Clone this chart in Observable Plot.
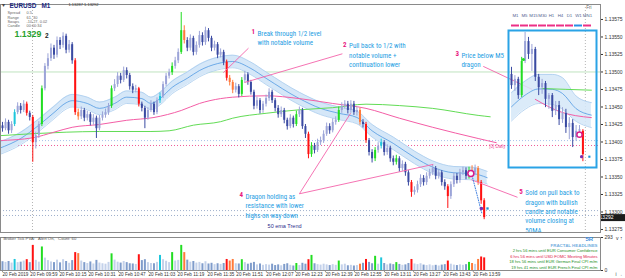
<!DOCTYPE html>
<html><head><meta charset="utf-8">
<script src="https://cdn.jsdelivr.net/npm/d3@7"></script>
<script src="https://cdn.jsdelivr.net/npm/@observablehq/plot@0.6"></script>
<style>
html,body{margin:0;padding:0;background:#fff;}
#wrap{position:relative;width:625px;height:278px;overflow:hidden;background:#fff;}
#wrap svg{position:absolute;}
</style></head><body><div id="wrap"></div>
<script>
// ---------- DATA (prices in points of 1e-5 above 1.13000) ----------
const firstOpen = 423;
const close = [419,428,416,425,442,451,445,454,441,435, 399,409,425,476,508,519,534,524,545,538,
 551,531,539,516,442,436,445,434,439,428, 434,419,434,438,442,451,476,482,494,488,
 502,495,479,474,476,454,448,434,445,454, 442,459,465,482,494,499,508,516,528,559,
 545,534,548,528,538,552,542,559,548,534, 539,524,528,514,491,485,474,479,468,488,
 496,485,471,451,459,445,454,462,471,459, 448,439,445,431,422,434,425,439,445,422,
 411,382,394,388,399,402,411,422,416,428, 431,445,451,454,445,454,442,445,428,425,
 402,385,376,388,394,399,385,391,376,371, 376,362,368,356,342,328,331,339,348,342,
 351,356,362,351,356,342,336,322,339,351, 345,356,359,351,359,356,362,342,316,292];
const high = [428,433,431,429,446,456,455,459,457,444, 438,414,429,480,512,526,540,538,550,549,
 556,554,545,542,519,447,450,448,444,442, 439,437,438,443,447,455,480,489,499,498,
 507,506,498,483,481,478,457,451,449,459, 457,463,470,486,498,504,513,521,533,585,
 566,549,553,551,543,558,556,564,562,551, 544,542,533,531,517,495,488,484,482,492,
 501,499,488,474,464,462,458,467,476,474, 462,452,450,448,434,439,437,444,450,448,
 425,414,399,398,404,407,416,427,426,433, 436,450,456,459,458,459,458,450,448,432,
 428,405,389,392,399,404,402,396,394,380, 381,379,373,371,359,345,336,344,353,352,
 356,361,367,365,361,359,346,339,343,356, 355,361,364,363,364,366,367,365,345,319];
const low = [414,416,411,412,422,439,440,442,437,430, 371,390,405,422,473,503,515,518,520,532,
 534,526,527,511,438,431,432,429,430,423, 424,405,416,430,434,438,448,472,478,483,
 485,490,474,469,470,450,443,419,431,442, 438,439,455,462,479,490,495,504,512,525,
 540,529,530,523,524,534,537,538,543,529, 530,519,520,509,487,480,469,470,463,465,
 484,481,467,446,447,440,441,450,458,455, 443,434,435,426,417,419,420,422,435,418,
 405,376,378,383,385,395,398,408,411,413, 424,428,441,447,440,441,438,437,424,420,
 398,380,370,372,384,390,380,381,371,366, 367,357,358,351,337,321,324,327,335,337,
 338,347,352,346,347,337,331,305,318,335, 340,341,352,346,347,352,352,338,311,289];
const volume = [78,72,80,66,98,70,74,84,96,70, 223,90,74,209,110,88,76,70,92,68,
 96,80,64,88,159,150,84,70,62,76, 58,90,66,60,56,72,148,92,74,66,
 80,70,60,58,54,140,88,96,70,62, 60,72,134,96,82,70,159,84,90,223,
 159,92,74,80,66,72,60,78,58,64, 52,60,54,62,98,84,98,60,58,96,
 70,56,64,72,50,58,46,52,48,56, 44,50,42,54,60,46,40,62,44,64,
 56,96,134,60,52,48,56,50,44,52, 46,84,50,56,42,46,40,44,56,64,
 98,72,60,126,56,112,62,50,58,52, 70,54,46,50,62,98,58,52,60,48,
 44,50,42,46,40,48,52,84,56,48, 44,50,46,52,72,62,54,98,120,112];
// PVA class per candle: C = climax volume, R = rising volume, . = normal
const pva = ["....R...C.","C..C......","....CR....","......C...",".....C....","..R...C..C",
 "R.........","....CRR..C","..........",".......C..",".CC.......",".C......R.",
 "C..C.R....","C....C....",".......C..","....CR.RCC"].join("");

// moving averages (candle index, value in points)
const dragonIdx = [-1,6,12,17,21,23,28,32,37,41,46,49,52,56,61,65,71,76,82,87,98,105,111,117,122,129,136,142,149,155,160];
const dragonUpper = [400,414,433,451,465,468,464,457,464,473,471,464,471,487,500,511,521,524,514,500,471,457,450,444,425,407,387,373,365,364,358];
const dragonLower = [382,396,415,433,447,450,446,439,446,455,453,446,453,469,482,493,503,506,496,482,453,439,432,426,407,389,369,355,347,346,340];
const pinkIdx = [-1,10,17,23,32,41,50,59,65,72,76,87,98,109,120,131,142,157,163];
const pinkMA = [402,406,414,421,425,431,435,445,455,462,464,466,462,455,448,434,421,405,399];
const greenIdx = [-1,21,32,49,55,63,72,76,87,98,109,120,131,142,157,161];
const greenMA = [409,414,415,415,416,424,429,434,441,446,449,454,452,448,438,436];

// horizontal levels and separators
const levelQ = [500, 402, 395, 302, 295];
const levelKind = ["round","blue","pink","grey","grey"];
const separators = [9.9, 192.4];

// annotations
const annoNum = ["1","2","3","4","5"];
const annoText = ["Break through 1/2 level\nwith notable volume",
 "Pull back to 1/2 with\nnotable volume +\ncontinuation lower",
 "Price below M5\ndragon",
 "Dragon holding as\nresistance with lower\nhighs on way down",
 "Sold on pull back to\ndragon with bullish\ncandle and notable\nvolume closing at\n50MA."];
const annoIdx = [82.2, 112.4, 149.5, 78.2, 170.6];
const annoTopQ = [561, 543, 530, 328, 333];
const ptrFromIdx = [81.2, 112.2, 158.7, 98, 98, 170];
const ptrFromQ = [534, 526, 508, 326, 326, 321];
const ptrToIdx = [72.9, 79.9, 174.9, 114.9, 142.2, 154.8];
const ptrToQ = [499, 485, 475, 441, 368, 346];

// signals
const ringIdx = 154.6, ringQ = 355;
const projIdx = [155, 158.3], projQ = [352, 297];
const purpleIdx = 158.1, purpleQ = 305;
const squareIdx = 160.1, squareQ = 305;

// inset (M5) data
const insetOpen = [484,457,472,433,515,563,532,544,477,452,462,424,433,395,409,375,390,356,366,332,347,347];
const insetHigh = [501,481,477,525,585,573,556,549,484,472,467,438,438,419,419,404,400,380,375,361,361,351];
const insetLow = [448,443,424,428,510,520,491,467,433,436,404,400,380,385,361,366,342,327,308,323,337,274];
const insetClose = [457,472,433,515,563,532,544,477,452,462,424,433,395,409,375,390,356,366,332,347,351,291];
const insetPva = "...C.................C";
const insetDragonIdx = [0,4,8,12,15,19,23.5];
const insetDragonUpper = [440,468,484,484,476,432,416];
const insetDragonLower = [372,400,414,412,400,371,356];
const insetGreenIdx = [9,16,23.5], insetGreenQ = [450,448,446];
const insetPinkIdx = [7,14,23.5], insetPinkQ = [424,395,380];

// timeframes strip
const timeframes = ["M1","M5","M15","M30","H1","H4","D1","W1","MN1"];
const tfTrend = ["down","down","down","down","down","down","down","up","down"];

// axes
const yTicks = [1.13275,1.133,1.13325,1.1335,1.13375,1.134,1.13425,1.1345,1.13475,1.135,1.13525,1.1355,1.13575];
const xTickPos = [0,9.2,18.8,28.4,38.3,48.2,57.8,67.7,77.2,87.1,96.7,106.6,116.2,126.1,135.7,145.6,155.4];
const xTickLabels = ["20 Feb 2019","20 Feb 09:59","20 Feb 10:15","20 Feb 10:31","20 Feb 10:47","20 Feb 11:03","20 Feb 11:19","20 Feb 11:35","20 Feb 11:51","20 Feb 12:07","20 Feb 12:23","20 Feb 12:39","20 Feb 12:55","20 Feb 13:11","20 Feb 13:27","20 Feb 13:43","20 Feb 13:59"];
const volMax = 293;

// ---------- BUILD ----------
const pt = q => 1.13 + q * 1e-5;
const candles = close.map((c, i) => {
  const o = i === 0 ? firstOpen : close[i - 1];
  return {i, o: pt(o), c: pt(c), h: pt(high[i]), l: pt(low[i]), v: volume[i], code: pva[i], bull: c >= o};
});
const PAL = {C: ["#22dd22", "#ff1111"], R: ["#1ec6dc", "#ff7a3a"], ".": ["#9ca4d8", "#3a4aa2"]};
const VPAL = {C: ["#22dd22", "#ff1111"], R: ["#1ec6dc", "#ff7a3a"], ".": ["#c3d1ea", "#7f9ccb"]};
const cCol = d => PAL[d.code][d.bull ? 0 : 1];
const vCol = d => VPAL[d.code][d.bull ? 0 : 1];

const dragon = dragonIdx.map((i, k) => ({i, up: pt(dragonUpper[k]), lo: pt(dragonLower[k]), mid: pt((dragonUpper[k] + dragonLower[k]) / 2)}));
const pink = pinkIdx.map((i, k) => ({i, y: pt(pinkMA[k])}));
const green = greenIdx.map((i, k) => ({i, y: pt(greenMA[k])}));
const levels = levelQ.map((q, k) => ({y: pt(q), kind: levelKind[k]}));
const annos = annoNum.map((n, k) => ({n, t: annoText[k], i: annoIdx[k], y: pt(annoTopQ[k])}));
const ptrs = ptrFromIdx.map((i, k) => ({x1: i, y1: pt(ptrFromQ[k]), x2: ptrToIdx[k], y2: pt(ptrToQ[k])}));
const proj = projIdx.map((i, k) => ({i, y: pt(projQ[k])}));
const lastClose = pt(close[close.length - 1]);

const FONT = "Liberation Sans, Arial, sans-serif";
const NARROW = "Liberation Sans Narrow, Roboto Condensed, Liberation Sans, Arial, sans-serif";
const xDomain = [-0.66, 197.4];
const yDomain = [1.132707, 1.135964];
const levelStroke = {round: "#bfe3bf", blue: "#a7c2ea", pink: "#ef5c98", grey: "#9fb0cc"};

const wrap = document.getElementById("wrap");
function place(svg, left, top) { svg.style.left = left + "px"; svg.style.top = top + "px"; wrap.appendChild(svg); }

const main = Plot.plot({
  width: 625, height: 234, marginLeft: 0, marginRight: 25, marginTop: 4, marginBottom: 2,
  x: {domain: xDomain, axis: null},
  y: {domain: yDomain, axis: null},
  style: {fontFamily: FONT, background: "transparent", color: "#333"},
  marks: [
    Plot.ruleY(levels.filter(d => d.kind === "round"), {y: "y", stroke: levelStroke.round, strokeWidth: 1}),
    Plot.ruleY(levels.filter(d => d.kind !== "round"), {y: "y", stroke: d => levelStroke[d.kind], strokeDasharray: "1,2", strokeWidth: 1}),
    Plot.ruleX(separators, {x: d => d, stroke: "#b5b5b5", strokeDasharray: "1,2"}),
    Plot.areaY(dragon, {x: "i", y1: "lo", y2: "up", fill: "#d5e7f8", curve: "monotone-x"}),
    Plot.line(dragon, {x: "i", y: "up", stroke: "#a8cbee", strokeWidth: 0.8, curve: "monotone-x"}),
    Plot.line(dragon, {x: "i", y: "lo", stroke: "#a8cbee", strokeWidth: 0.8, curve: "monotone-x"}),
    Plot.line(dragon, {x: "i", y: "mid", stroke: "#3f8fe0", strokeWidth: 0.7, curve: "monotone-x"}),
    Plot.line(green, {x: "i", y: "y", stroke: "#62dc55", strokeWidth: 1, curve: "monotone-x"}),
    Plot.line(pink, {x: "i", y: "y", stroke: "#f45ea6", strokeWidth: 1, curve: "monotone-x"}),
    Plot.ruleX(candles, {x: "i", y1: "l", y2: "h", stroke: cCol, strokeWidth: 1}),
    Plot.ruleX(candles, {x: "i", y1: "o", y2: "c", stroke: cCol, strokeWidth: 2}),
    Plot.link(ptrs, {x1: "x1", y1: "y1", x2: "x2", y2: "y2", stroke: "#f463aa", strokeWidth: 0.9}),
    Plot.line(proj, {x: "i", y: "y", stroke: "#3f7fe0", strokeDasharray: "1,1.5", strokeWidth: 1}),
    Plot.dot([0], {x: () => ringIdx, y: () => pt(ringQ), r: 3, stroke: "#d81b8a", strokeWidth: 1.5, fill: "#fff"}),
    Plot.dot([0], {x: () => purpleIdx, y: () => pt(purpleQ), r: 1.8, fill: "#7a2fb0"}),
    Plot.dot([0], {x: () => squareIdx, y: () => pt(squareQ), r: 1.3, symbol: "square", fill: "#1e90d0"}),
    Plot.text(annos, {x: "i", y: "y", text: "n", fill: "#e8157d", fontWeight: "bold", fontSize: 7, textAnchor: "start", lineAnchor: "top", fontFamily: NARROW}),
    Plot.text(annos, {x: "i", y: "y", text: "t", dx: 6, fill: "#1fa0e3", fontSize: 7, textAnchor: "start", lineAnchor: "top", lineHeight: 1.33, fontFamily: NARROW}),
    Plot.text(["50 ema Trend"], {x: () => 87.5, y: () => pt(279), fill: "#2c2c8c", fontSize: 5.5, textAnchor: "start"}),
    Plot.text(["[0] Daily"], {x: () => 160.7, y: () => pt(393), fill: "#ee4f9a", fontSize: 4.5, textAnchor: "start"}),
    Plot.text(["Fri"], {x: () => separators[1], frameAnchor: "top", dy: 1, dx: 1, lineAnchor: "top", textAnchor: "start", fontSize: 4.5, fill: "#666"}),
    Plot.axisY(yTicks, {anchor: "right", tickSize: 2, tickPadding: 2, fontSize: 5, tickFormat: d3.format(".5f")}),
    Plot.ruleY([lastClose], {y: d => d, x1: xDomain[1] + 0.3, x2: xDomain[1] + 8.3, stroke: "#1b1b1b", strokeWidth: 7}),
    Plot.text([lastClose], {y: d => d, frameAnchor: "right", dx: 13, text: d3.format(".5f"), fill: "#fff", fontSize: 5}),
    Plot.frame({stroke: "#8a8a8a"})
  ]
});
place(main, 0, 0);

// inset M5 chart
const insetC = insetClose.map((c, k) => ({k, o: pt(insetOpen[k]), c: pt(c), h: pt(insetHigh[k]), l: pt(insetLow[k]), code: insetPva[k], bull: c >= insetOpen[k]}));
const insetD = insetDragonIdx.map((k, j) => ({k, up: pt(insetDragonUpper[j]), lo: pt(insetDragonLower[j]), mid: pt((insetDragonUpper[j] + insetDragonLower[j]) / 2)}));
const insetG = insetGreenIdx.map((k, j) => ({k, y: pt(insetGreenQ[j])}));
const insetP = insetPinkIdx.map((k, j) => ({k, y: pt(insetPinkQ[j])}));
const inset = Plot.plot({
  width: 92, height: 141, marginLeft: 2, marginRight: 2, marginTop: 2, marginBottom: 2,
  x: {domain: [-0.88, 25], axis: null},
  y: {domain: [1.1326, 1.135896], axis: null},
  style: {background: "transparent"},
  marks: [
    Plot.areaY(insetD, {x: "k", y1: "lo", y2: "up", fill: "#d5e7f8", fillOpacity: 0.85, curve: "monotone-x"}),
    Plot.line(insetD, {x: "k", y: "up", stroke: "#a8cbee", strokeWidth: 0.8, curve: "monotone-x"}),
    Plot.line(insetD, {x: "k", y: "lo", stroke: "#a8cbee", strokeWidth: 0.8, curve: "monotone-x"}),
    Plot.line(insetD, {x: "k", y: "mid", stroke: "#3f8fe0", strokeWidth: 0.7, curve: "monotone-x"}),
    Plot.line(insetG, {x: "k", y: "y", stroke: "#62dc55", strokeWidth: 1}),
    Plot.line(insetP, {x: "k", y: "y", stroke: "#f45ea6", strokeWidth: 1, curve: "monotone-x"}),
    Plot.ruleX(insetC, {x: "k", y1: "l", y2: "h", stroke: cCol, strokeWidth: 1}),
    Plot.ruleX(insetC, {x: "k", y1: "o", y2: "c", stroke: cCol, strokeWidth: 2}),
    Plot.dot([0], {x: () => 3.5, y: () => pt(520), r: 1.5, fill: "#22dd22"}),
    Plot.dot([0], {x: () => 20, y: () => pt(339), r: 2.6, stroke: "#d81b8a", strokeWidth: 1.4, fill: "#fff"}),
    Plot.dot([0], {x: () => 20.6, y: () => pt(286), r: 1.6, fill: "#7a2fb0"}),
    Plot.dot([0], {x: () => 22.9, y: () => pt(286), r: 1.2, symbol: "square", fill: "#1e90d0"}),
    Plot.frame({stroke: "#2aa3e6", strokeWidth: 2})
  ]
});
place(inset, 506, 28);

// timeframe strip
const strip = Plot.plot({
  width: 625, height: 30, marginLeft: 508, marginRight: 31, marginTop: 0, marginBottom: 0,
  x: {type: "band", domain: timeframes, padding: 0.12, axis: null},
  y: {domain: [0, 1], range: [25, 15], axis: null},
  style: {background: "transparent", fontFamily: FONT},
  marks: [
    Plot.text(timeframes, {x: d => d, y: () => 1, text: d => d, fontSize: 4.4, fill: "#52628e"}),
    Plot.tickY(timeframes, {x: d => d, y: () => 0, stroke: d => tfTrend[timeframes.indexOf(d)] === "up" ? "#2a8fe6" : "#ec2f86", strokeWidth: 2})
  ]
});
place(strip, 0, 0);

// volume panel
const labelMap = new Map(xTickPos.map((p, k) => [p, xTickLabels[k]]));
const vol = Plot.plot({
  width: 625, height: 45, marginLeft: 0, marginRight: 25, marginTop: 4, marginBottom: 8,
  x: {domain: xDomain, axis: null},
  y: {domain: [0, volMax], axis: null},
  style: {background: "transparent", fontFamily: FONT, color: "#333"},
  marks: [
    Plot.ruleX(candles, {x: "i", y1: 0, y2: "v", stroke: vCol, strokeWidth: 2}),
    Plot.axisY([0, volMax], {anchor: "right", tickSize: 2, tickPadding: 2, fontSize: 5}),
    Plot.axisX(xTickPos, {anchor: "bottom", tickSize: 1.5, tickPadding: 0.5, fontSize: 4.6, textAnchor: "start", tickFormat: d => labelMap.get(d)}),
    Plot.frame({stroke: "#8a8a8a"})
  ]
});
place(vol, 0, 233);

// static text overlay
function lab(t, x, y, o = {}) {
  return Plot.text([t], {frameAnchor: "top-left", dx: x, dy: y, text: d => d, textAnchor: "start", lineAnchor: "middle", fontFamily: FONT, ...o});
}
const headlines = ["2 hrs 56 mins until EUR Consumer Confidence", "6 hrs 56 mins until USD FOMC Meeting Minutes", "18 hrs 56 mins until EUR German Final CPI m/m", "19 hrs 41 mins until EUR French Final CPI m/m"];
const headColors = ["#1b8f1b", "#e0204a", "#1b8f1b", "#1b8f1b"];
const overlay = Plot.plot({
  width: 625, height: 278, margin: 0,
  style: {background: "transparent"},
  marks: [
    lab("▾", 1.5, 5, {fontSize: 6, fill: "#444"}),
    lab("EURUSD", 9, 5, {fontSize: 6.4, fontWeight: "bold", fill: "#1b2a80"}),
    lab("M1", 41, 5, {fontSize: 6.4, fontWeight: "bold", fill: "#1b2a80"}),
    lab("1.13287 1.13292", 68, 4.5, {fontSize: 4, fill: "#333"}),
    lab("Spread", 7, 12.7, {fontSize: 3.9, fill: "#666"}), lab("0.5", 26, 12.7, {fontSize: 3.9, fill: "#666"}),
    lab("Range", 7, 16.8, {fontSize: 3.9, fill: "#666"}), lab("61, 30", 26, 16.8, {fontSize: 3.9, fill: "#666"}),
    lab("Swaps", 7, 21, {fontSize: 3.9, fill: "#666"}), lab("-10.27, 0.02", 26, 21, {fontSize: 3.9, fill: "#666"}),
    lab("Candle", 7, 25.3, {fontSize: 3.9, fill: "#666"}), lab("00:00:34", 26, 25.3, {fontSize: 3.9, fill: "#666"}),
    lab("1.1329", 14, 34, {fontSize: 8.8, fontWeight: "bold", fill: "#27a12d"}),
    lab("2", 44.5, 35, {fontSize: 6.5, fontWeight: "bold", fill: "#222"}),
    lab("Broker Tick PVA:   Alert On,   Count: 60", 3, 238.5, {fontSize: 4.2, fill: "#555"}),
    lab("5R", 585, 239, {fontSize: 6, fontWeight: "bold", fill: "#3a8ee0"}),
    lab("FRACTAL HEADLINES", 597, 245, {fontSize: 4.4, fontWeight: "bold", fill: "#74aee0", textAnchor: "end"}),
    ...headlines.map((h, k) => lab(h, 597, 250.5 + k * 5.4, {fontSize: 4.1, fill: headColors[k], textAnchor: "end"}))
  ]
});
place(overlay, 0, 0);
</script></body></html>
